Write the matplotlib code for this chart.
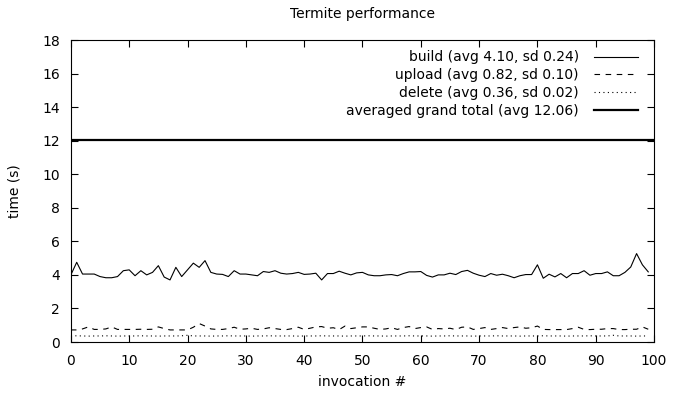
import numpy as np
import matplotlib
matplotlib.use('Agg')
import matplotlib.pyplot as plt

# tempi per invocazione
build = [4.0, 4.75, 4.05, 4.05, 4.05, 3.9, 3.83, 3.83, 3.9, 4.25,
         4.3, 3.95, 4.25, 4.0, 4.15, 4.55, 3.87, 3.7, 4.45, 3.9,
         4.3, 4.7, 4.45, 4.85, 4.15, 4.05, 4.03, 3.9, 4.25, 4.05,
         4.05, 4.0, 3.95, 4.2, 4.15, 4.25, 4.1, 4.05, 4.08, 4.15,
         4.03, 4.05, 4.1, 3.7, 4.08, 4.08, 4.22, 4.1, 4.0, 4.12,
         4.15, 4.0, 3.95, 3.95, 4.0, 4.02, 3.95, 4.08, 4.18, 4.18,
         4.2, 3.97, 3.87, 4.0, 4.0, 4.1, 4.02, 4.2, 4.27, 4.1,
         3.98, 3.9, 4.08, 3.98, 4.04, 3.95, 3.83, 3.95, 4.02, 4.02,
         4.6, 3.8, 4.04, 3.88, 4.08, 3.83, 4.08, 4.08, 4.25, 3.98,
         4.08, 4.08, 4.18, 3.95, 3.95, 4.15, 4.47, 5.27, 4.6, 4.18]
upload = [0.72, 0.72, 0.78, 0.9, 0.75, 0.75, 0.78, 0.9, 0.75, 0.75,
          0.75, 0.75, 0.76, 0.75, 0.76, 0.9, 0.8, 0.72, 0.72, 0.72,
          0.72, 0.88, 1.1, 0.95, 0.78, 0.75, 0.75, 0.8, 0.88, 0.76,
          0.78, 0.82, 0.75, 0.78, 0.85, 0.8, 0.75, 0.74, 0.8, 0.88,
          0.75, 0.82, 0.9, 0.92, 0.82, 0.85, 0.74, 0.95, 0.8, 0.85,
          0.9, 0.9, 0.82, 0.75, 0.78, 0.85, 0.75, 0.86, 0.92, 0.8,
          0.86, 0.9, 0.75, 0.8, 0.78, 0.82, 0.74, 0.88, 0.9, 0.75,
          0.8, 0.86, 0.75, 0.8, 0.86, 0.8, 0.86, 0.9, 0.82, 0.85,
          0.95, 0.75, 0.74, 0.74, 0.74, 0.74, 0.8, 0.88, 0.75, 0.74,
          0.76, 0.76, 0.8, 0.8, 0.74, 0.74, 0.76, 0.76, 0.9, 0.76]
delete = [0.36, 0.37, 0.36, 0.35, 0.36, 0.36, 0.37, 0.36, 0.35, 0.36,
          0.36, 0.36, 0.37, 0.36, 0.36, 0.35, 0.36, 0.36, 0.36, 0.37,
          0.4, 0.36, 0.36, 0.36, 0.35, 0.36, 0.36, 0.37, 0.36, 0.36,
          0.36, 0.35, 0.36, 0.36, 0.37, 0.36, 0.36, 0.36, 0.36, 0.35,
          0.36, 0.36, 0.36, 0.37, 0.36, 0.36, 0.36, 0.35, 0.36, 0.36,
          0.36, 0.37, 0.36, 0.36, 0.35, 0.36, 0.36, 0.36, 0.37, 0.36,
          0.36, 0.36, 0.35, 0.36, 0.36, 0.37, 0.36, 0.36, 0.36, 0.35,
          0.36, 0.36, 0.36, 0.37, 0.36, 0.36, 0.36, 0.35, 0.36, 0.36,
          0.36, 0.37, 0.36, 0.36, 0.36, 0.35, 0.36, 0.36, 0.36, 0.37,
          0.36, 0.36, 0.36, 0.4, 0.36, 0.36, 0.36, 0.35, 0.36, 0.36]
totale_medio = 12.06

etichette = ['build (avg 4.10, sd 0.24)',
             'upload (avg 0.82, sd 0.10)',
             'delete (avg 0.36, sd 0.02)',
             'averaged grand total (avg 12.06)']

plt.rcParams['font.family'] = 'DejaVu Sans'
plt.rcParams['font.size'] = 10

fig = plt.figure(figsize=(6.75, 4), dpi=100)
ax = fig.add_axes([0.105, 0.145, 0.864, 0.755])

asse_x = np.arange(len(build))
ax.plot(asse_x, build, color='black', lw=0.8, label=etichette[0])
ax.plot(asse_x, upload, color='black', lw=0.8, dashes=(5, 5), label=etichette[1])
ax.plot(asse_x, delete, color='black', lw=0.8, dashes=(1, 3), label=etichette[2])
ax.axhline(totale_medio, color='black', lw=1.6, label=etichette[3])

ax.set_xlim(0, 100)
ax.set_ylim(0, 18)
ax.set_xticks(range(0, 101, 10))
ax.set_yticks(range(0, 19, 2))
ax.tick_params(direction='in', top=True, right=True, length=5, width=0.8)
ax.tick_params(axis='x', pad=8.5)
ax.tick_params(axis='y', pad=8)
for s in ax.spines.values():
    s.set_linewidth(0.8)

ax.set_title('Termite performance', fontsize=10, pad=16)
ax.set_xlabel('invocation #', labelpad=5.5)
ax.set_ylabel('time (s)', labelpad=15)

leg = ax.legend(loc='upper right', frameon=False, markerfirst=False,
                handlelength=3.2, handletextpad=1.05, labelspacing=0.27,
                borderaxespad=0.0, bbox_to_anchor=(0.982, 0.984))

plt.savefig('out.png', dpi=100)
